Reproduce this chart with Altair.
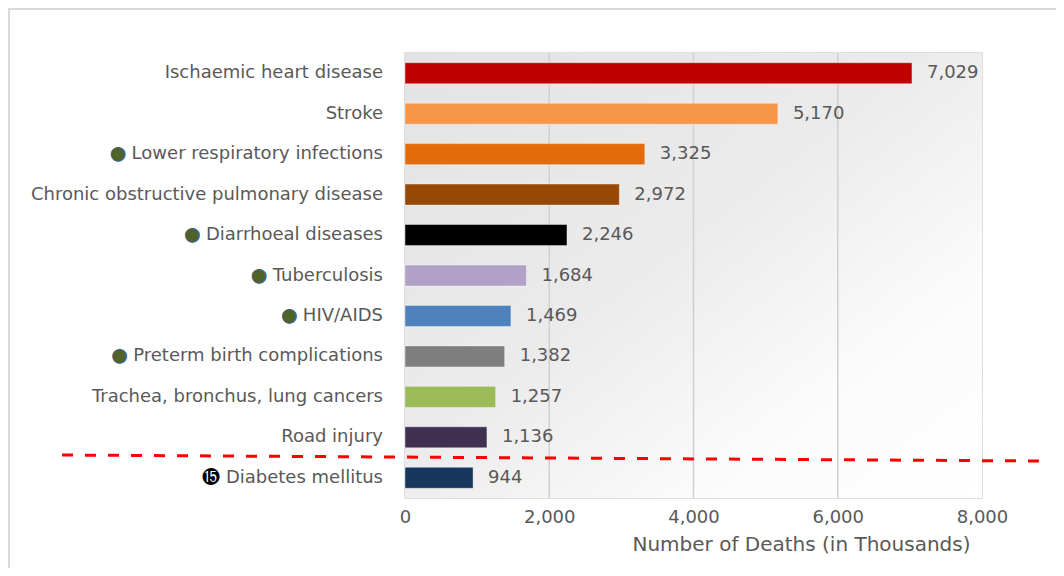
import altair as alt
import pandas as pd

causes = [
    "Ischaemic heart disease",
    "Stroke",
    "Lower respiratory infections",
    "Chronic obstructive pulmonary disease",
    "Diarrhoeal diseases",
    "Tuberculosis",
    "HIV/AIDS",
    "Preterm birth complications",
    "Trachea, bronchus, lung cancers",
    "Road injury",
    "Diabetes mellitus",
]
deaths = [7029, 5170, 3325, 2972, 2246, 1684, 1469, 1382, 1257, 1136, 944]
bar_colors = ["#c00000", "#f79646", "#e36c09", "#974806", "#000000", "#b2a1c7",
              "#4f81bd", "#7f7f7f", "#9bbb59", "#403152", "#17375e"]
markers = ["", "", "●", "", "●", "●", "●", "●", "", "", "⓯"]
marker_colors = ["#4f6228"] * 10 + ["#000000"]
marker_strokes = ["#3a5f8c"] * 10 + ["transparent"]
x_ticks = [0, 2000, 4000, 6000, 8000]
grid_values = [2000, 4000, 6000]

df = pd.DataFrame({
    "cause": causes,
    "deaths": deaths,
    "deco": [(m + " " + c) if m else "" for m, c in zip(markers, causes)],
    "deco_color": marker_colors,
    "deco_stroke": marker_strokes,
})

W, H = 577, 445
FONT = "DejaVu Sans"
GRAY = "#595959"
FS = 18

ysc = alt.Scale(domain=causes, paddingInner=0.48, paddingOuter=0.24)
xsc = alt.Scale(domain=[0, 8000], nice=False)

bg = alt.Chart(alt.Data(values=[{}])).mark_rect(
    fill=alt.Gradient(
        gradient="linear", x1=0, y1=0, x2=1, y2=1,
        stops=[alt.GradientStop(color="#e3e3e3", offset=0),
               alt.GradientStop(color="#ebebeb", offset=0.45),
               alt.GradientStop(color="#fbfbfb", offset=0.75),
               alt.GradientStop(color="#ffffff", offset=1)],
    )
).encode(x=alt.value(0), x2=alt.value(W), y=alt.value(0), y2=alt.value(H))

grid = alt.Chart(pd.DataFrame({"g": grid_values})).mark_rule(
    color="#d0d0d0", strokeWidth=1.5
).encode(x=alt.X("g:Q", scale=xsc))

bars = alt.Chart(df).mark_bar(stroke="#ffffff", strokeWidth=0.8, strokeOpacity=0.5).encode(
    y=alt.Y("cause:N", sort=causes, scale=ysc, axis=None),
    x=alt.X("deaths:Q", scale=xsc,
            axis=alt.Axis(values=x_ticks, format=",d", grid=False, domain=False, ticks=False,
                          labelFont=FONT, labelFontSize=FS, labelColor=GRAY, labelPadding=10,
                          labelFlush=False,
                          title="Number of Deaths (in Thousands)", titleFont=FONT,
                          titleFontSize=20, titleFontWeight="normal", titleColor=GRAY,
                          titleX=396, titleY=46, titleAlign="center", titleBaseline="middle")),
    color=alt.Color("cause:N", scale=alt.Scale(domain=causes, range=bar_colors), legend=None),
)

values = alt.Chart(df).mark_text(
    align="left", baseline="middle", dx=15, font=FONT, fontSize=FS, color=GRAY
).encode(
    y=alt.Y("cause:N", sort=causes, scale=ysc),
    x=alt.X("deaths:Q", scale=xsc),
    text=alt.Text("deaths:Q", format=",d"),
)

deco = alt.Chart(df).mark_text(
    align="right", baseline="middle", font=FONT, fontSize=FS, strokeWidth=1
).encode(
    y=alt.Y("cause:N", sort=causes, scale=ysc),
    x=alt.value(-22),
    text="deco:N",
    color=alt.Color("deco_color:N", scale=None),
    stroke=alt.Stroke("deco_stroke:N", scale=None),
)

erase = alt.Chart(df).mark_text(
    align="right", baseline="middle", font=FONT, fontSize=FS, color="#ffffff",
    stroke="#ffffff", strokeWidth=3
).encode(
    y=alt.Y("cause:N", sort=causes, scale=ysc),
    x=alt.value(-22),
    text="cause:N",
)

labels = alt.Chart(df).mark_text(
    align="right", baseline="middle", font=FONT, fontSize=FS, color=GRAY
).encode(
    y=alt.Y("cause:N", sort=causes, scale=ysc),
    x=alt.value(-22),
    text="cause:N",
)

redline = alt.Chart(alt.Data(values=[{}])).mark_rule(
    color="#ff0000", strokeWidth=3, strokeDash=[11, 12]
).encode(x=alt.value(-343), x2=alt.value(635), y=alt.value(402), y2=alt.value(408))

frame = alt.Chart(alt.Data(values=[{}])).mark_rect(
    fillOpacity=0, stroke="#d9d9d9", strokeWidth=2
).encode(x=alt.value(-396), x2=alt.value(1200), y=alt.value(-44), y2=alt.value(900))

chart = alt.layer(bg, grid, bars, values, deco, erase, labels, redline, frame).properties(
    width=W, height=H,
    autosize=alt.AutoSizeParams(type="none"),
    padding={"left": 397, "top": 45, "right": 74, "bottom": 70},
).configure_view(stroke="#d4d4d4", strokeWidth=1.5)

chart.save("out.html", embed_options={"renderer": "svg", "actions": False})
